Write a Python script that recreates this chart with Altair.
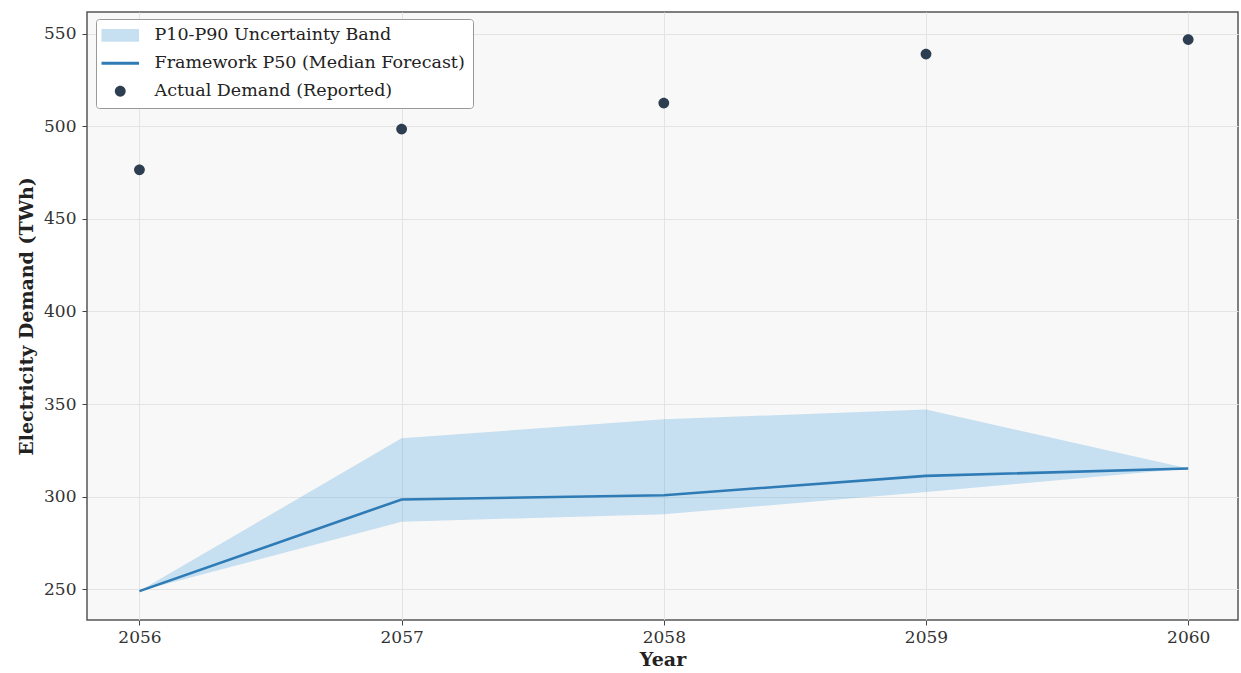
import altair as alt
import pandas as pd

years = [2056, 2057, 2058, 2059, 2060]
p50 = [249.0, 298.5, 300.8, 311.2, 315.2]
p10 = [249.0, 286.5, 290.5, 302.5, 315.2]
p90 = [249.0, 331.5, 341.8, 347.0, 315.2]
actual = [476.5, 498.5, 512.5, 539.0, 546.8]

labels = ["P10-P90 Uncertainty Band", "Framework P50 (Median Forecast)", "Actual Demand (Reported)"]
legend_colors = ["#c7e0f1", "#2e7bb5", "#2c3e50"]
legend_shapes = [
    "M-2.5,-0.85H2.5V0.85H-2.5Z",
    "M-2.5,-0.2H2.5V0.2H-2.5Z",
    "M0,-0.72A0.72,0.72,0,1,1,0,0.72A0.72,0.72,0,1,1,0,-0.72Z",
]

band_df = pd.DataFrame({"year": years, "p10": p10, "p90": p90})
line_df = pd.DataFrame({"year": years, "p50": p50})
act_df = pd.DataFrame({"year": years, "actual": actual, "series": [labels[2]] * len(years)})

FONT = "DejaVu Serif"
xscale = alt.Scale(domain=[2055.8, 2060.19], nice=False, zero=False)
yscale = alt.Scale(domain=[233.4, 561.7], nice=False, zero=False)

xaxis = alt.Axis(values=years, format="d", title="Year", grid=True)
yaxis = alt.Axis(values=[250, 300, 350, 400, 450, 500, 550], title="Electricity Demand (TWh)",
                 grid=True, labelPadding=6)

band = alt.Chart(band_df).mark_area(color="#3498db", opacity=0.25).encode(
    x=alt.X("year:Q", scale=xscale, axis=xaxis),
    y=alt.Y("p10:Q", scale=yscale, axis=yaxis),
    y2="p90:Q",
)

line = alt.Chart(line_df).mark_line(color="#2e7bb5", strokeWidth=2.6).encode(
    x=alt.X("year:Q", scale=xscale),
    y=alt.Y("p50:Q", scale=yscale),
)

points = alt.Chart(act_df).mark_point(filled=True, size=225, opacity=1).encode(
    x=alt.X("year:Q", scale=xscale),
    y=alt.Y("actual:Q", scale=yscale),
    color=alt.Color("series:N", scale=alt.Scale(domain=labels, range=legend_colors),
                    legend=alt.Legend(title=None, orient="none", legendX=9, legendY=7)),
    shape=alt.Shape("series:N", scale=alt.Scale(domain=labels, range=legend_shapes)),
)

chart = alt.layer(band, line, points).properties(
    width=1151, height=608,
    padding={"left": 87, "top": 12, "right": 3, "bottom": 53},
    autosize="none",
    background="white",
).configure_view(
    fill="#f8f8f8", stroke="#555555", strokeWidth=1.5
).configure_axis(
    labelFont=FONT, labelFontSize=17, labelColor="#333333",
    titleFont=FONT, titleFontSize=19, titleFontWeight="bold", titleColor="#222222",
    tickColor="#444444", tickSize=5, tickWidth=1, labelPadding=4,
    gridColor="#e4e4e4", gridWidth=1, domain=False,
).configure_axisY(
    titlePadding=7,
).configure_axisX(
    titlePadding=5,
).configure_legend(
    labelFont=FONT, labelFontSize=17.5, labelColor="#222222", labelLimit=500,
    fillColor="white", strokeColor="#999999", strokeWidth=1, cornerRadius=3,
    padding=7.5, rowPadding=9, symbolSize=225, labelOffset=25.5, symbolOffset=8,
    symbolStrokeWidth=0, symbolOpacity=1,
)

chart.save("out.html", embed_options={"renderer": "svg", "actions": False})
